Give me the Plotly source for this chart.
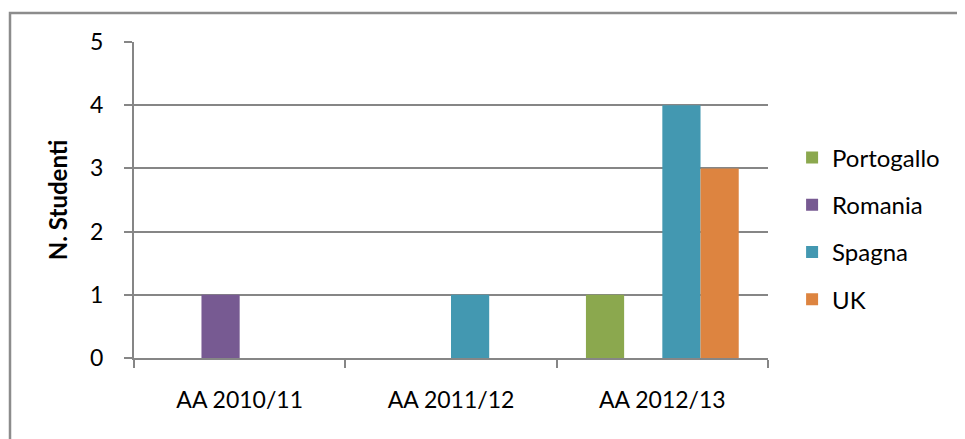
import plotly.graph_objects as go

categories = ["AA 2010/11", "AA 2011/12", "AA 2012/13"]
series_names = ["Portogallo", "Romania", "Spagna", "UK"]
portogallo = [0, 0, 1]
romania = [1, 0, 0]
spagna = [0, 1, 4]
uk = [0, 0, 3]
y_ticks = [0, 1, 2, 3, 4, 5]
y_title = "N. Studenti"

colors = ["#8BA84E", "#775A92", "#4398B1", "#DD8440"]
values = [portogallo, romania, spagna, uk]

FONT = "Lato"

# page body has an 8px margin, so the figure is placed at (8, 8)
W, H = 957, 431
L, T = 126, 34
PW, PH = 634, 316

fig = go.Figure()
for i, (name, vals) in enumerate(zip(series_names, values)):
    fig.add_trace(go.Bar(
        x=categories, y=vals, name=name,
        marker=dict(color=colors[i], line=dict(width=0)),
        legendgroup=name,
    ))

fig.update_layout(
    width=W, height=H,
    margin=dict(l=L, r=W - L - PW, t=T, b=H - T - PH, pad=0),
    paper_bgcolor="white", plot_bgcolor="white",
    barmode="group", bargap=0.277, bargroupgap=0,
    font=dict(family=FONT, size=23, color="#000000"),
    showlegend=True,
    legend=dict(
        x=1.038, xanchor="left", y=0.41, yanchor="middle",
        font=dict(size=24, family=FONT, color="#000000"),
        traceorder="grouped", tracegroupgap=13,
        itemwidth=30, bgcolor="rgba(0,0,0,0)",
    ),
    xaxis=dict(
        type="category", showgrid=False,
        showline=True, linecolor="#868686", linewidth=2,
        ticks="outside", tickson="boundaries", ticklen=8, tickwidth=2, tickcolor="#868686",
        tickfont=dict(size=23, family=FONT),
        ticklabelstandoff=20,
    ),
    yaxis=dict(
        range=[0, 5], tickvals=y_ticks, ticktext=[str(v) for v in y_ticks],
        showgrid=True, gridcolor="#868686", gridwidth=2,
        showline=True, linecolor="#868686", linewidth=2,
        ticks="outside", ticklen=8, tickwidth=2, tickcolor="#868686",
        zeroline=False,
        tickfont=dict(size=23, family=FONT),
        ticklabelstandoff=16,
        title=dict(text="<b>" + y_title + "</b>", font=dict(size=24, family=FONT), standoff=16),
    ),
    shapes=[dict(
        type="rect", xref="paper", yref="paper",
        x0=(2 - L) / PW, x1=(980 - L) / PW, y0=-(H - T - PH + 20) / PH, y1=1 + (T - 5) / PH,
        line=dict(color="#8C8C8C", width=2.5), fillcolor="rgba(0,0,0,0)", layer="below",
    )],
)

fig.write_html("out.html")
